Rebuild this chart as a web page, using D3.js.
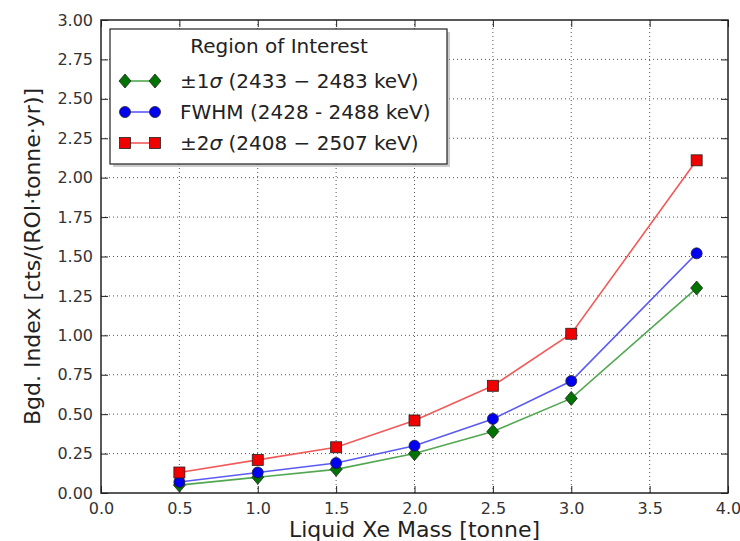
<!DOCTYPE html>
<html>
<head>
<meta charset="utf-8">
<script src="https://cdn.jsdelivr.net/npm/d3@7"></script>
<style>
  body { margin: 0; background: #fff; }
  svg { display: block; font-family: "DejaVu Sans", sans-serif; }
</style>
</head>
<body>
<div id="chart"></div>
<script>
// values
const masses = [0.5, 1.0, 1.5, 2.0, 2.5, 3.0, 3.8];
const sigma1 = [0.05, 0.10, 0.15, 0.25, 0.39, 0.60, 1.30];
const fwhm = [0.07, 0.13, 0.19, 0.30, 0.47, 0.71, 1.52];
const sigma2 = [0.13, 0.21, 0.29, 0.46, 0.68, 1.01, 2.11];
const xTicks = [0, 0.5, 1, 1.5, 2, 2.5, 3, 3.5, 4];
const yTicks = [0, 0.25, 0.5, 0.75, 1, 1.25, 1.5, 1.75, 2, 2.25, 2.5, 2.75, 3];

const series = [
  { key: "s1", values: sigma1, line: "#52a852", fill: "#007400", marker: "diamond",
    label: ["±1", "σ", " (2433 − 2483 keV)"] },
  { key: "fwhm", values: fwhm, line: "#5a5af5", fill: "#0000f0", marker: "circle",
    label: ["FWHM (2428 - 2488 keV)", "", ""] },
  { key: "s2", values: sigma2, line: "#f25a5a", fill: "#f00000", marker: "square",
    label: ["±2", "σ", " (2408 − 2507 keV)"] }
];

const W = 740, H = 541;
const margin = { top: 20, right: 12, bottom: 48, left: 101 };
const width = W - margin.left - margin.right;
const height = H - margin.top - margin.bottom;

const svg = d3.select("#chart").append("svg")
  .attr("width", W).attr("height", H);
const g = svg.append("g")
  .attr("transform", `translate(${margin.left},${margin.top})`);

const x = d3.scaleLinear().domain([0, 4]).range([0, width]);
const y = d3.scaleLinear().domain([0, 3]).range([height, 0]);

// grid
g.append("g").selectAll("line").data(xTicks.slice(1, -1)).enter().append("line")
  .attr("x1", d => x(d)).attr("x2", d => x(d)).attr("y1", 0).attr("y2", height)
  .attr("stroke", "#555").attr("stroke-width", 1).attr("stroke-dasharray", "1,3");
g.append("g").selectAll("line").data(yTicks.slice(1, -1)).enter().append("line")
  .attr("y1", d => y(d)).attr("y2", d => y(d)).attr("x1", 0).attr("x2", width)
  .attr("stroke", "#555").attr("stroke-width", 1).attr("stroke-dasharray", "1,3");

// axes, ticks pointing inward on all sides
const fmtY = d3.format(".2f"), fmtX = d3.format(".1f");
function styleAxis(sel) {
  sel.select(".domain").remove();
  sel.selectAll("line").attr("stroke", "#222");
  sel.selectAll("text").attr("fill", "#333").style("font-size", "16px")
    .style("font-family", "'DejaVu Sans', sans-serif");
}
g.append("g").attr("transform", `translate(0,${height})`)
  .call(d3.axisBottom(x).tickValues(xTicks).tickFormat(fmtX).tickSizeInner(-7).tickPadding(10))
  .call(styleAxis);
g.append("g")
  .call(d3.axisLeft(y).tickValues(yTicks).tickFormat(fmtY).tickSizeInner(-7).tickPadding(8))
  .call(styleAxis);
g.append("g")
  .call(d3.axisTop(x).tickValues(xTicks).tickFormat("").tickSizeInner(-7))
  .call(styleAxis);
g.append("g").attr("transform", `translate(${width},0)`)
  .call(d3.axisRight(y).tickValues(yTicks).tickFormat("").tickSizeInner(-7))
  .call(styleAxis);

g.append("rect").attr("width", width).attr("height", height)
  .attr("fill", "none").attr("stroke", "#222").attr("stroke-width", 1.5);

// markers
function drawMarker(sel, type, fill) {
  if (type === "diamond") {
    sel.append("path").attr("d", "M0,-7L6,0L0,7L-6,0Z");
  } else if (type === "circle") {
    sel.append("circle").attr("r", 5.5);
  } else {
    sel.append("rect").attr("x", -5.5).attr("y", -5.5).attr("width", 11).attr("height", 11);
  }
  sel.selectAll("path,circle,rect").attr("fill", fill).attr("stroke", "#222").attr("stroke-width", 0.8);
}

const line = d3.line().x(d => x(d[0])).y(d => y(d[1]));

series.forEach(s => {
  const pts = masses.map((m, i) => [m, s.values[i]]);
  g.append("path").datum(pts)
    .attr("fill", "none").attr("stroke", s.line).attr("stroke-width", 1.6)
    .attr("d", line);
  g.append("g").selectAll("g").data(pts).enter().append("g")
    .attr("transform", d => `translate(${x(d[0])},${y(d[1])})`)
    .each(function() { drawMarker(d3.select(this), s.marker, s.fill); });
});

// legend
const lg = svg.append("g").attr("transform", "translate(110,29)");
lg.append("rect").attr("x", 3).attr("y", 3).attr("width", 337).attr("height", 135)
  .attr("fill", "#999").attr("opacity", 0.5);
lg.append("rect").attr("width", 337).attr("height", 135)
  .attr("fill", "#fff").attr("stroke", "#222").attr("stroke-width", 1.2);
lg.append("text").attr("x", 169).attr("y", 24).attr("text-anchor", "middle")
  .style("font-size", "20px").attr("fill", "#222").text("Region of Interest");

series.forEach((s, i) => {
  const row = lg.append("g").attr("transform", `translate(0,${52 + i * 31})`);
  row.append("line").attr("x1", 15).attr("x2", 45).attr("stroke", s.line).attr("stroke-width", 1.6);
  [15, 45].forEach(px => {
    const m = row.append("g").attr("transform", `translate(${px},0)`);
    drawMarker(m, s.marker, s.fill);
  });
  const t = row.append("text").attr("x", 70).attr("y", 7)
    .style("font-size", "20px").attr("fill", "#222");
  t.append("tspan").text(s.label[0]);
  if (s.label[1]) t.append("tspan").style("font-style", "italic").text(s.label[1]);
  if (s.label[2]) t.append("tspan").text(s.label[2]);
});

// axis titles
svg.append("text").attr("x", margin.left + width / 2).attr("y", 537)
  .attr("text-anchor", "middle").style("font-size", "22px").attr("fill", "#222")
  .text("Liquid Xe Mass [tonne]");
svg.append("text").attr("transform", `translate(40,${margin.top + height / 2}) rotate(-90)`)
  .attr("text-anchor", "middle").style("font-size", "22px").attr("fill", "#222")
  .text("Bgd. Index [cts/(ROI·tonne·yr)]");
</script>
</body>
</html>
